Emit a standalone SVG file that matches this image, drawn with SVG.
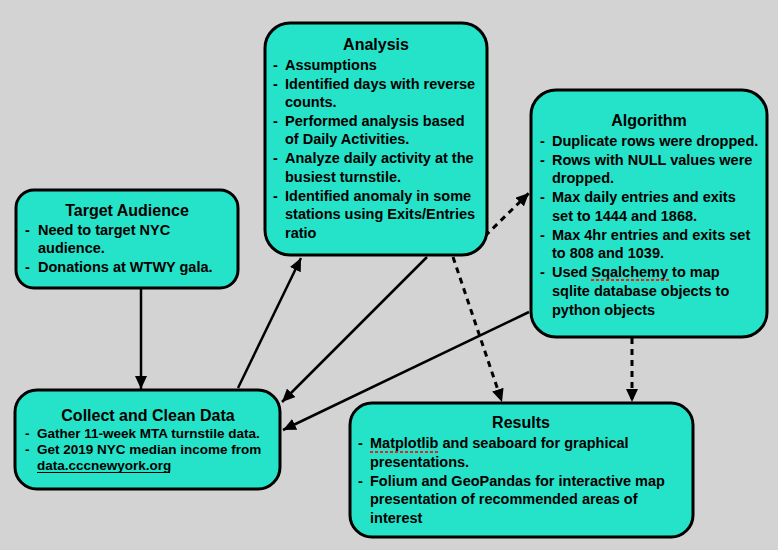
<svg xmlns="http://www.w3.org/2000/svg" width="778" height="550" viewBox="0 0 778 550">
<style>
.box{fill:#25e3c9;stroke:#000;stroke-width:3}
.t{font-family:"Liberation Sans",Arial,sans-serif;font-weight:bold;fill:#000}
.title{font-size:16px;text-anchor:middle}
.b{font-size:14.5px}
.s{font-size:13.5px}
.c{fill:none;stroke:#000;stroke-width:2.5}
.d{stroke-dasharray:6 5;stroke-width:3}
.sp{stroke:#f01e1e;stroke-width:2;stroke-dasharray:3 2;fill:none}
</style>
<defs>
<marker id="ah" markerUnits="userSpaceOnUse" markerWidth="13" markerHeight="12" refX="13" refY="6" orient="auto">
<path d="M0,0 L13,6 L0,12 z" fill="#000" stroke="none"/>
</marker>
</defs>
<rect width="778" height="550" fill="#d3d3d3"/>
<g id="connectors">
<path class="c" d="M141,289 L141,389" marker-end="url(#ah)"/>
<path class="c" d="M238,388 L301,258" marker-end="url(#ah)"/>
<path class="c" d="M427,257 L282,402" marker-end="url(#ah)"/>
<path class="c" d="M529,312 L283,430" marker-end="url(#ah)"/>
<path class="c d" d="M453,257 L502,402" marker-end="url(#ah)"/>
<path class="c d" d="M485,236 L529,193" marker-end="url(#ah)"/>
<path class="c d" d="M632,338 L632,402" marker-end="url(#ah)"/>
</g>
<g id="analysis">
<rect class="box" x="265" y="23" width="222" height="232" rx="25"/>
<text class="t title" x="376" y="50">Analysis</text>
<g class="t b">
<text x="273" y="70">-</text><text x="285" y="70">Assumptions</text>
<text x="273" y="89">-</text><text x="285" y="89">Identified days with reverse</text>
<text x="285" y="107">counts.</text>
<text x="273" y="126">-</text><text x="285" y="126">Performed analysis based</text>
<text x="285" y="144">of Daily Activities.</text>
<text x="273" y="163">-</text><text x="285" y="163">Analyze daily activity at the</text>
<text x="285" y="182">busiest turnstile.</text>
<text x="273" y="201">-</text><text x="285" y="201">Identified anomaly in some</text>
<text x="285" y="219">stations using Exits/Entries</text>
<text x="285" y="238">ratio</text>
</g>
</g>
<g id="algorithm">
<rect class="box" x="531" y="90" width="236" height="247" rx="25"/>
<text class="t title" x="649" y="126">Algorithm</text>
<g class="t b">
<text x="540" y="146">-</text><text x="552" y="146">Duplicate rows were dropped.</text>
<text x="540" y="165">-</text><text x="552" y="165">Rows with NULL values were</text>
<text x="552" y="183">dropped.</text>
<text x="540" y="202">-</text><text x="552" y="202">Max daily entries and exits</text>
<text x="552" y="221">set to 1444 and 1868.</text>
<text x="540" y="240">-</text><text x="552" y="240">Max 4hr entries and exits set</text>
<text x="552" y="258">to 808 and 1039.</text>
<text x="540" y="277">-</text><text x="552" y="277">Used Sqalchemy to map</text>
<text x="552" y="296">sqlite database objects to</text>
<text x="552" y="315">python objects</text>
</g>
<path class="sp" d="M591,280 L669,280"/>
</g>
<g id="target">
<rect class="box" x="16" y="190" width="222" height="98" rx="18"/>
<text class="t title" x="127" y="216">Target Audience</text>
<g class="t b">
<text x="25" y="235">-</text><text x="38" y="235">Need to target NYC</text>
<text x="38" y="253">audience.</text>
<text x="25" y="272">-</text><text x="38" y="272">Donations at WTWY gala.</text>
</g>
</g>
<g id="collect">
<rect class="box" x="15" y="390" width="265" height="99" rx="22"/>
<text class="t title" x="148" y="421">Collect and Clean Data</text>
<g class="t s">
<text x="25" y="438">-</text><text x="37" y="438">Gather 11-week MTA turnstile data.</text>
<text x="25" y="454">-</text><text x="37" y="454">Get 2019 NYC median income from</text>
<text x="37" y="470">data.cccnewyork.org</text>
</g>
<path d="M37,472.5 L170,472.5" stroke="#000" stroke-width="1.2"/>
</g>
<g id="results">
<rect class="box" x="350" y="403" width="343" height="134" rx="22"/>
<text class="t title" x="521" y="428">Results</text>
<g class="t b">
<text x="358" y="448">-</text><text x="370" y="448">Matplotlib and seaboard for graphical</text>
<text x="370" y="467">presentations.</text>
<text x="358" y="486">-</text><text x="370" y="486">Folium and GeoPandas for interactive map</text>
<text x="370" y="504">presentation of recommended areas of</text>
<text x="370" y="523">interest</text>
</g>
<path class="sp" d="M370,452 L438,452"/>
</g>
</svg>
